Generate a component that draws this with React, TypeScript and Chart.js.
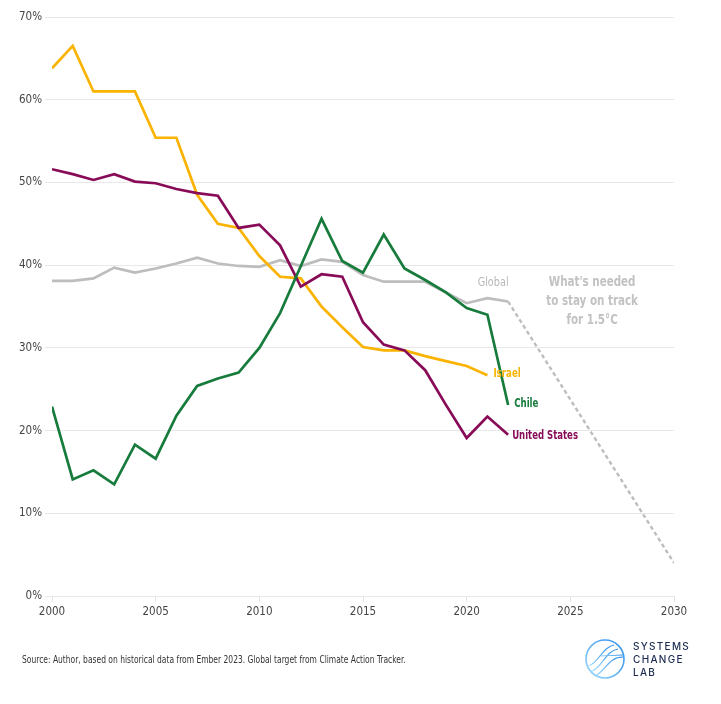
import { useRef, useEffect } from "react";
import Chart from "chart.js/auto";

const FONT = "'Liberation Sans Narrow', 'DejaVu Sans Condensed', 'DejaVu Sans', sans-serif";

const years = [
  2000, 2001, 2002, 2003, 2004, 2005, 2006, 2007, 2008, 2009, 2010, 2011,
  2012, 2013, 2014, 2015, 2016, 2017, 2018, 2019, 2020, 2021, 2022,
];
const chile = [
  22.9, 14.1, 15.2, 13.5, 18.3, 16.6, 21.8, 25.4, 26.3, 27.0, 30.0, 34.2,
  39.9, 45.6, 40.5, 39.1, 43.7, 39.6, 38.2, 36.7, 34.8, 34.0, 23.1,
];
const unitedStates = [
  51.6, 51.0, 50.3, 51.0, 50.1, 49.9, 49.2, 48.7, 48.4, 44.5, 44.9, 42.4,
  37.4, 38.9, 38.6, 33.1, 30.4, 29.7, 27.3, 23.1, 19.1, 21.7, 19.5,
];
// Israel stops at 2021
const israel = [
  63.8, 66.5, 61.0, 61.0, 61.0, 55.4, 55.4, 48.5, 45.0, 44.5, 41.1, 38.6,
  38.4, 35.0, 32.5, 30.1, 29.7, 29.7, 29.0, 28.4, 27.8, 26.7,
];
const globalShare = [
  38.1, 38.1, 38.4, 39.7, 39.1, 39.6, 40.2, 40.9, 40.2, 39.9, 39.8, 40.6,
  39.9, 40.7, 40.4, 38.8, 38.0, 38.0, 38.0, 36.7, 35.4, 36.0, 35.6,
];
const targetYears = [2022, 2030];
const targetValues = [35.6, 4.0];
const yTicks = [0, 10, 20, 30, 40, 50, 60, 70];
const xTicks = [2000, 2005, 2010, 2015, 2020, 2025, 2030];
const noteLines = ["What's needed", "to stay on track", "for 1.5°C"];

const COLORS = {
  chile: "#177b3c",
  us: "#880b57",
  israel: "#f9b300",
  global: "#bdbdbd",
};

const toPoints = (xs: number[], ys: number[]) =>
  ys.map((y, i) => ({ x: xs[i], y }));

// text squeezed horizontally, the fallback font is wider than the original
const narrowText = (ctx: any, t: string, x: number, y: number, sx: number) => {
  ctx.save();
  ctx.translate(x, y);
  ctx.scale(sx, 1);
  ctx.fillText(t, 0, 0);
  ctx.restore();
};

// end-of-line labels + the 1.5C note
const labelPlugin = {
  id: "endLabels",
  afterDatasetsDraw(chart: any) {
    const { ctx } = chart;
    const last = (idx: number) => {
      const pts = chart.getDatasetMeta(idx).data;
      return pts[pts.length - 1];
    };
    ctx.save();
    ctx.textBaseline = "middle";
    ctx.textAlign = "left";

    ctx.font = `bold 13px ${FONT}`;
    let p = last(2);
    ctx.fillStyle = COLORS.israel;
    narrowText(ctx, "Israel", p.x + 6, p.y - 2, 0.74);

    p = last(0);
    ctx.fillStyle = COLORS.chile;
    narrowText(ctx, "Chile", p.x + 6, p.y - 1, 0.74);

    p = last(1);
    ctx.fillStyle = COLORS.us;
    narrowText(ctx, "United States", p.x + 4, p.y + 1, 0.73);

    p = last(3);
    ctx.textAlign = "center";
    ctx.font = `13px ${FONT}`;
    ctx.fillStyle = "#b8b8b8";
    narrowText(ctx, "Global", p.x - 15, p.y - 19, 0.83);

    const cx = chart.scales.x.getPixelForValue(2026.05);
    const cy = chart.scales.y.getPixelForValue(37.9);
    ctx.font = `bold 14px ${FONT}`;
    ctx.fillStyle = "#c2c2c2";
    noteLines.forEach((t, i) => {
      narrowText(ctx, t, cx, cy + i * 19, 0.82);
    });
    ctx.restore();
  },
};

const Logo = () => (
  <div style={{ position: "absolute", left: 584, top: 638, display: "flex", alignItems: "center" }}>
    <svg width="42" height="42" viewBox="0 0 42 42">
      <defs>
        <linearGradient id="lg" x1="0" y1="1" x2="1" y2="0">
          <stop offset="0" stopColor="#9ad8ff" />
          <stop offset="1" stopColor="#2d8ee8" />
        </linearGradient>
      </defs>
      <circle cx="21" cy="21" r="19" fill="none" stroke="url(#lg)" strokeWidth="1.6" />
      <path d="M3 28 C 14 27, 18 9, 30 7" fill="none" stroke="url(#lg)" strokeWidth="1.2" />
      <path d="M6 34 C 18 31, 21 13, 34 11" fill="none" stroke="url(#lg)" strokeWidth="1.2" />
      <path d="M11 38 C 22 33, 24 19, 39 19" fill="none" stroke="url(#lg)" strokeWidth="1.2" />
      <path d="M19 14 L 39 14" fill="none" stroke="url(#lg)" strokeWidth="1.2" />
      <path d="M17 18 L 40 17" fill="none" stroke="url(#lg)" strokeWidth="1.2" />
    </svg>
    <div
      style={{
        marginLeft: 7,
        fontFamily: "Inter, 'Noto Sans', sans-serif",
        fontSize: 10,
        fontWeight: 500,
        letterSpacing: 1.3,
        lineHeight: "13px",
        color: "#1c2a52",
      }}
    >
      SYSTEMS
      <br />
      CHANGE
      <br />
      LAB
    </div>
  </div>
);

const App = () => {
  const canvasRef = useRef<HTMLCanvasElement>(null);

  useEffect(() => {
    const ctx = canvasRef.current?.getContext("2d");
    if (!ctx) return;

    const line = (label: string, data: any[], color: string, extra: any = {}) => ({
      label,
      data,
      borderColor: color,
      backgroundColor: color,
      borderWidth: 2.7,
      pointRadius: 0,
      tension: 0,
      ...extra,
    });

    const chart = new Chart(ctx, {
      type: "line",
      data: {
        datasets: [
          line("Chile", toPoints(years, chile), COLORS.chile),
          line("United States", toPoints(years, unitedStates), COLORS.us),
          line("Israel", toPoints(years, israel), COLORS.israel),
          line("Global", toPoints(years, globalShare), COLORS.global),
          line("Target", toPoints(targetYears, targetValues), COLORS.global, {
            borderDash: [4, 3],
            borderWidth: 2.4,
          }),
        ],
      },
      options: {
        responsive: false,
        animation: false,
        layout: { padding: { left: 0, right: 47, top: 17, bottom: 78 } },
        plugins: {
          legend: { display: false },
          tooltip: { enabled: false },
        },
        scales: {
          x: {
            type: "linear",
            min: 2000,
            max: 2030,
            afterFit: (s: any) => {
              s.height = 30;
            },
            afterBuildTicks: (s: any) => {
              s.ticks = xTicks.map((v) => ({ value: v }));
            },
            ticks: {
              padding: 3,
              color: "#444",
              font: { family: FONT, size: 11.5 },
              callback: (v: any) => String(v),
            },
            grid: {
              drawOnChartArea: false,
              drawTicks: true,
              tickLength: 6,
              color: "#e3e3e3",
            },
            border: { display: false },
          },
          y: {
            min: 0,
            max: 70,
            afterFit: (s: any) => {
              s.width = 52;
            },
            afterBuildTicks: (s: any) => {
              s.ticks = yTicks.map((v) => ({ value: v }));
            },
            ticks: {
              padding: 3,
              color: "#444",
              font: { family: FONT, size: 11.5 },
              callback: (v: any) => v + "%",
            },
            grid: { color: "#e8e8e8", lineWidth: 1, tickLength: 7 },
            border: { display: false },
          },
        },
      },
      plugins: [labelPlugin],
    });

    return () => {
      chart.destroy();
    };
  }, []);

  return (
    <div style={{ position: "absolute", left: 0, top: 0, width: 721, height: 704, background: "#fff" }}>
      <canvas ref={canvasRef} width={721} height={704} style={{ width: 721, height: 704 }}></canvas>
      <div
        style={{
          position: "absolute",
          left: 22,
          top: 653,
          fontFamily: FONT,
          fontSize: 10.5,
          color: "#333",
          whiteSpace: "nowrap",
          transform: "scaleX(0.8)",
          transformOrigin: "left center",
        }}
      >
        Source: Author, based on historical data from Ember 2023. Global target from Climate Action Tracker.
      </div>
      <Logo />
    </div>
  );
};

export default App;
